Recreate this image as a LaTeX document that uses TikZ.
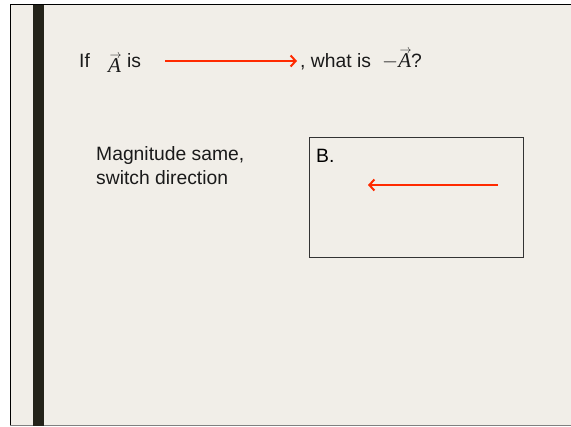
\documentclass[tikz,border=0pt]{standalone}
\usepackage{fontspec}
\setmainfont{Liberation Sans}
\newfontfamily\timesfont{Liberation Serif}
\usetikzlibrary{arrows.meta}
\definecolor{slidebg}{HTML}{F1EEE8}
\definecolor{barcol}{HTML}{24231A}
\definecolor{vecred}{HTML}{FF2A00}
\definecolor{txtcol}{HTML}{1A1A1A}
\newcommand{\vecA}{\mbox{\fontsize{21bp}{24bp}\timesfont\itshape A\/}%
  \llap{\raisebox{14bp}{\fontsize{12bp}{12bp}\selectfont$\rightarrow$}\hspace{-0.5bp}}}
\tikzset{
  slidetext/.style={anchor=base west, inner sep=0pt, text=txtcol,
    font=\fontsize{19.3bp}{23bp}\selectfont},
  redarrow/.style={draw=vecred, line width=2bp,
    -{Straight Barb[length=5bp, width=11bp, line width=2bp]}}
}
\begin{document}
\begin{tikzpicture}[x=1bp, y=-1bp]
    % 1. Page area and slide background
    \useasboundingbox (0, 0) rectangle (571, 426);
    \fill[white] (0, 0) rectangle (571, 426);
    \fill[slidebg] (10, 4) rectangle (571, 426);
    \draw[black, line width=1.5bp] (10.5, 426) -- (10.5, 4.5) -- (571, 4.5);
    \draw[gray, line width=1.5bp] (10, 425.3) -- (571, 425.3);

    % 2. Dark bar on the left
    \fill[barcol] (33, 5) rectangle (44, 426);

    % 3. Question line
    \node[slidetext] (if) at (79, 67) {If};
    \node[slidetext] (vA) at (108, 72) {\vecA};
    \node[slidetext] (is) at (127, 67) {is};
    \coordinate (qstart) at (165, 61);
    \coordinate (qend) at (297, 61);
    \draw[redarrow] (qstart) -- (qend);
    \node[slidetext] (what) at (300, 67) {, what is};
    \node[slidetext] (negA) at (382, 67) {$-$\vecA?};

    % 4. Answer text
    \node[slidetext] (mag) at (96, 160) {Magnitude same,};
    \node[slidetext] (switch) at (96, 184) {switch direction};

    % 5. Answer box B
    \draw[black!80, line width=1bp] (309, 137) rectangle (523, 257);
    \node[slidetext, text=black] (B) at (316, 162) {B.};
    \coordinate (bstart) at (498, 185);
    \coordinate (bend) at (368, 185);
    \draw[redarrow] (bstart) -- (bend);
\end{tikzpicture}
\end{document}
